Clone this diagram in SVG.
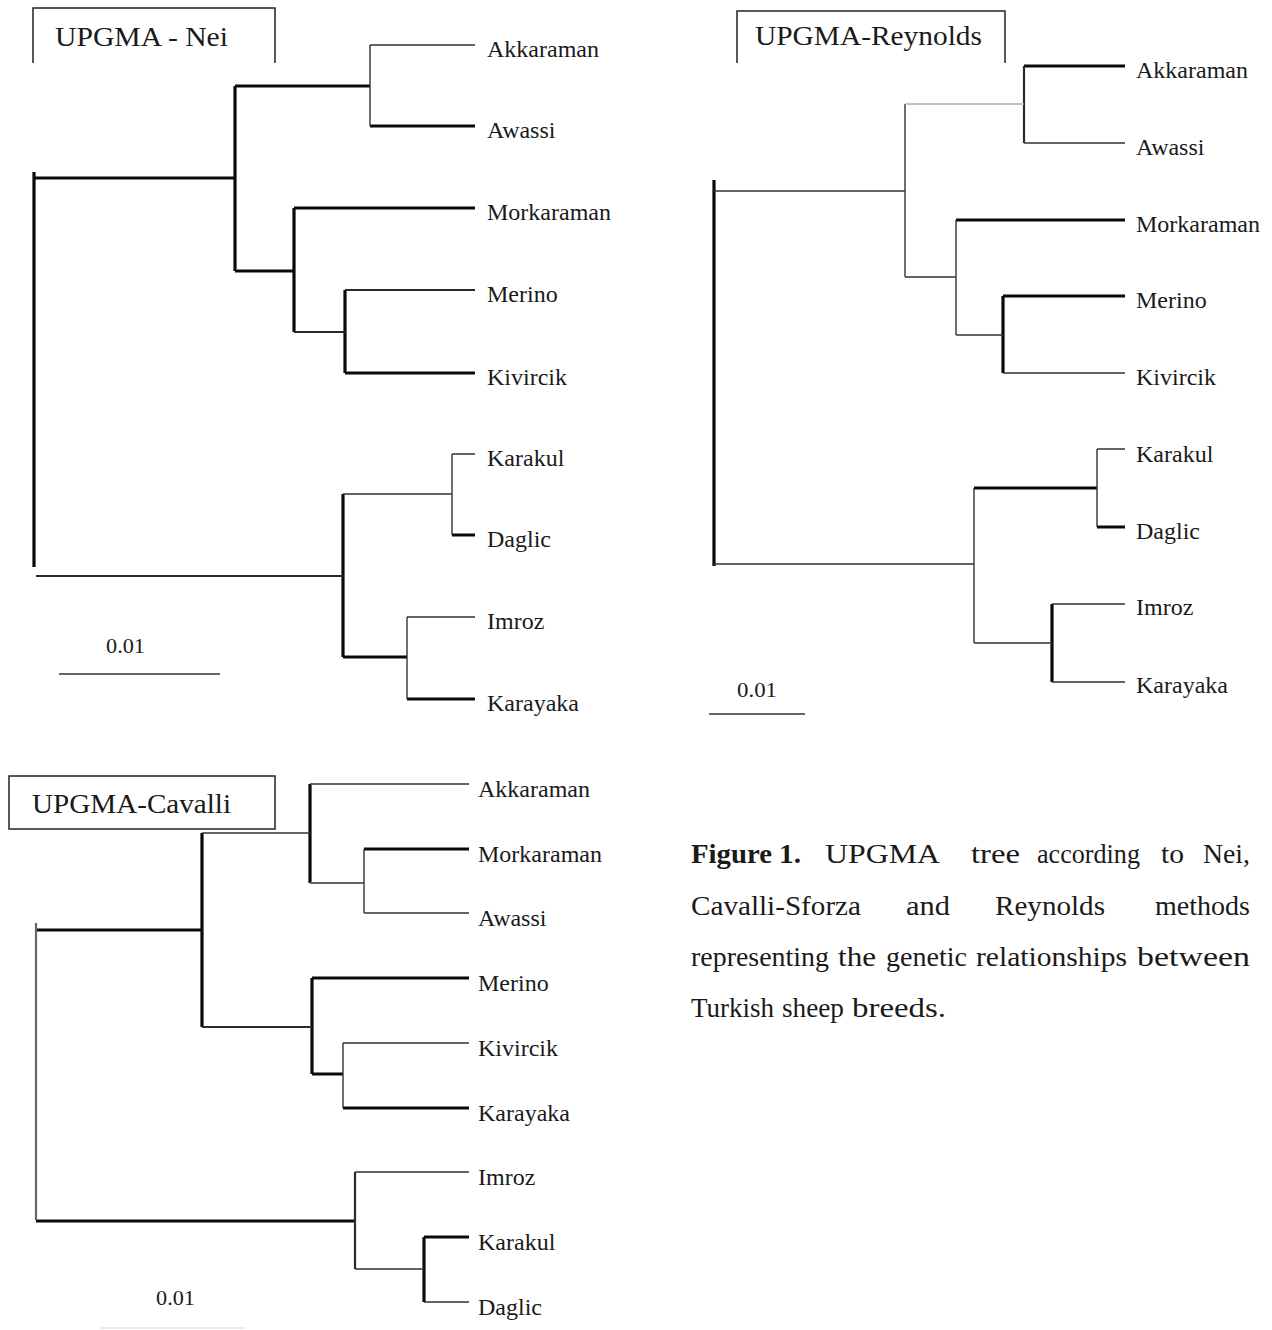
<svg xmlns="http://www.w3.org/2000/svg" width="1272" height="1330" viewBox="0 0 1272 1330">
<style>
text{font-family:"Liberation Serif","Times New Roman",serif;fill:#1a1a1a}
.lb{font-size:24px}
.ti{font-size:28px}
.sc{font-size:22px}
.cap{font-size:28px}
.k{stroke:#0a0a0a;stroke-width:3.2;fill:none}
.m{stroke:#2a2a2a;stroke-width:2.2;fill:none}
.t{stroke:#333;stroke-width:1.4;fill:none}
.g{stroke:#b0b0b0;stroke-width:1.4;fill:none}
.box{stroke:#222;stroke-width:1.5;fill:none}
</style>
<rect width="1272" height="1330" fill="#fff"/>

<!-- ===== Panel 1: UPGMA - Nei ===== -->
<g id="nei-title">
<path class="box" d="M33,63 V8 H275 V63"/>
<text class="ti" x="55" y="46" textLength="173" lengthAdjust="spacingAndGlyphs">UPGMA - Nei</text>
</g>
<g id="nei-connectors">
<path class="k" d="M370,126 H475 M235,86 H370 M235,86 V271 M34,178 H235 M34,172 V567 M294,208 H475 M294,208 V332 M235,271 H294 M345,290 V373 M345,373 H475 M343,494 V657 M452,535 H475 M343,657 H407 M407,699 H475"/>
<path class="m" d="M36,576 H343 M294,332 H345 M345,290 H475"/>
<path class="t" d="M370,45 H475 M370,45 V126 M343,494 H452 M452,454 V535 M452,454 H475 M407,617 V699 M407,617 H475"/>
<path class="t" d="M59,674 H220"/>
</g>
<g id="nei-akkaraman"><text class="lb" x="487" y="57">Akkaraman</text></g>
<g id="nei-awassi"><text class="lb" x="487" y="138">Awassi</text></g>
<g id="nei-morkaraman"><text class="lb" x="487" y="220">Morkaraman</text></g>
<g id="nei-merino"><text class="lb" x="487" y="302">Merino</text></g>
<g id="nei-kivircik"><text class="lb" x="487" y="385">Kivircik</text></g>
<g id="nei-karakul"><text class="lb" x="487" y="466">Karakul</text></g>
<g id="nei-daglic"><text class="lb" x="487" y="547">Daglic</text></g>
<g id="nei-imroz"><text class="lb" x="487" y="629">Imroz</text></g>
<g id="nei-karayaka"><text class="lb" x="487" y="711">Karayaka</text></g>
<g id="nei-scale"><text class="sc" x="106" y="653" textLength="39" lengthAdjust="spacingAndGlyphs">0.01</text></g>

<!-- ===== Panel 2: UPGMA-Reynolds ===== -->
<g id="rey-title">
<path class="box" d="M737,63 V11 H1005 V63"/>
<text class="ti" x="755" y="45" textLength="227" lengthAdjust="spacingAndGlyphs">UPGMA-Reynolds</text>
</g>
<g id="rey-connectors">
<path class="k" d="M1024,66 H1125 M714,180 V566 M956,220 H1125 M1003,296 H1125 M1003,296 V373 M1097,527 H1125 M974,488 H1097 M1052,604 V682"/>
<path class="m" d="M1024,66 V143"/>
<path class="t" d="M1024,143 H1125 M905,104 V277 M714,191 H905 M905,277 H956 M956,220 V335 M956,335 H1003 M1003,373 H1125 M1097,449 H1125 M1097,449 V527 M974,488 V643 M714,564 H974 M974,643 H1052 M1052,604 H1125 M1052,682 H1125"/>
<path class="g" d="M905,104 H1024"/>
<path class="t" d="M709,714 H805"/>
</g>
<g id="rey-akkaraman"><text class="lb" x="1136" y="78">Akkaraman</text></g>
<g id="rey-awassi"><text class="lb" x="1136" y="155">Awassi</text></g>
<g id="rey-morkaraman"><text class="lb" x="1136" y="232">Morkaraman</text></g>
<g id="rey-merino"><text class="lb" x="1136" y="308">Merino</text></g>
<g id="rey-kivircik"><text class="lb" x="1136" y="385">Kivircik</text></g>
<g id="rey-karakul"><text class="lb" x="1136" y="462">Karakul</text></g>
<g id="rey-daglic"><text class="lb" x="1136" y="539">Daglic</text></g>
<g id="rey-imroz"><text class="lb" x="1136" y="615">Imroz</text></g>
<g id="rey-karayaka"><text class="lb" x="1136" y="693">Karayaka</text></g>
<g id="rey-scale"><text class="sc" x="737" y="697" textLength="40" lengthAdjust="spacingAndGlyphs">0.01</text></g>

<!-- ===== Panel 3: UPGMA-Cavalli ===== -->
<g id="cav-title">
<rect class="box" x="9" y="776" width="266" height="53"/>
<text class="ti" x="32" y="813" textLength="199" lengthAdjust="spacingAndGlyphs">UPGMA-Cavalli</text>
</g>
<g id="cav-connectors">
<path class="k" d="M310,784 V883 M364,849 H469 M202,833 V1027 M36,930 H202 M312,978 H469 M312,978 V1074 M312,1074 H343 M343,1108 H469 M36,1221 H355 M424,1237 V1302 M424,1237 H469"/>
<path class="m" d="M202,1027 H312 M355,1172 V1269"/>
<path class="m" style="stroke:#666" d="M310,883 H364 M36,923 V1220"/>
<path class="t" d="M310,784 H469 M364,849 V913 M364,913 H469 M202,833 H310 M343,1043 H469 M343,1043 V1108 M355,1172 H469 M355,1269 H424 M424,1302 H469"/>
<path class="g" style="stroke:#e4e4e4" d="M100,1328 H245"/>
</g>
<g id="cav-akkaraman"><text class="lb" x="478" y="797">Akkaraman</text></g>
<g id="cav-morkaraman"><text class="lb" x="478" y="862">Morkaraman</text></g>
<g id="cav-awassi"><text class="lb" x="478" y="926">Awassi</text></g>
<g id="cav-merino"><text class="lb" x="478" y="991">Merino</text></g>
<g id="cav-kivircik"><text class="lb" x="478" y="1056">Kivircik</text></g>
<g id="cav-karayaka"><text class="lb" x="478" y="1121">Karayaka</text></g>
<g id="cav-imroz"><text class="lb" x="478" y="1185">Imroz</text></g>
<g id="cav-karakul"><text class="lb" x="478" y="1250">Karakul</text></g>
<g id="cav-daglic"><text class="lb" x="478" y="1315">Daglic</text></g>
<g id="cav-scale"><text class="sc" x="156" y="1305" textLength="39" lengthAdjust="spacingAndGlyphs">0.01</text></g>

<!-- ===== Caption ===== -->
<g id="caption" class="cap">
<text x="691" y="863" font-weight="bold" textLength="81" lengthAdjust="spacingAndGlyphs">Figure</text>
<text x="779" y="863" font-weight="bold" textLength="22" lengthAdjust="spacingAndGlyphs">1.</text>
<text x="825" y="863" textLength="115" lengthAdjust="spacingAndGlyphs">UPGMA</text>
<text x="971" y="863" textLength="49" lengthAdjust="spacingAndGlyphs">tree</text>
<text x="1037" y="863" textLength="103" lengthAdjust="spacingAndGlyphs">according</text>
<text x="1161" y="863" textLength="23" lengthAdjust="spacingAndGlyphs">to</text>
<text x="1203" y="863" textLength="47" lengthAdjust="spacingAndGlyphs">Nei,</text>

<text x="691" y="915" textLength="170" lengthAdjust="spacingAndGlyphs">Cavalli-Sforza</text>
<text x="906" y="915" textLength="44" lengthAdjust="spacingAndGlyphs">and</text>
<text x="995" y="915" textLength="110" lengthAdjust="spacingAndGlyphs">Reynolds</text>
<text x="1155" y="915" textLength="95" lengthAdjust="spacingAndGlyphs">methods</text>

<text x="691" y="966" textLength="138" lengthAdjust="spacingAndGlyphs">representing</text>
<text x="838" y="966" textLength="38" lengthAdjust="spacingAndGlyphs">the</text>
<text x="886" y="966" textLength="81" lengthAdjust="spacingAndGlyphs">genetic</text>
<text x="976" y="966" textLength="151" lengthAdjust="spacingAndGlyphs">relationships</text>
<text x="1137" y="966" textLength="113" lengthAdjust="spacingAndGlyphs">between</text>

<text x="691" y="1017" textLength="83" lengthAdjust="spacingAndGlyphs">Turkish</text>
<text x="782" y="1017" textLength="62" lengthAdjust="spacingAndGlyphs">sheep</text>
<text x="852" y="1017" textLength="94" lengthAdjust="spacingAndGlyphs">breeds.</text>
</g>
</svg>
